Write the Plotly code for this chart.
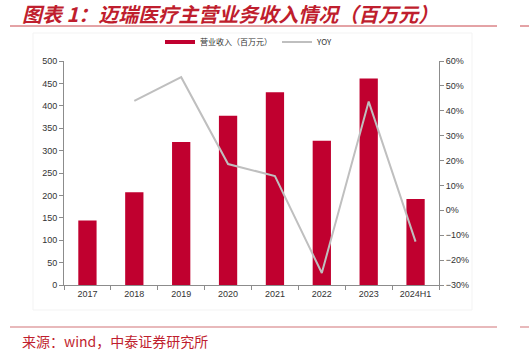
import plotly.graph_objects as go

categories = ["2017", "2018", "2019", "2020", "2021", "2022", "2023", "2024H1"]
revenue = [144, 207, 319, 378, 430, 322, 461, 192]
yoy = [None, 0.44, 0.535, 0.186, 0.138, -0.252, 0.437, -0.126]
title_text = "图表 1：迈瑞医疗主营业务收入情况（百万元）"
source_text = "来源：wind，中泰证券研究所"
left_ticks = list(range(0, 501, 50))
right_ticks = [i / 10 for i in range(-3, 7)]

W, H = 529, 351
L, R, T, B = 64, 90, 61, 66
PW, PH = W - L - R, H - T - B


def px(x):
    return (x - L) / PW


def py(y):
    return (H - B - y) / PH


BAR_COLOR = "#C0002F"
LINE_COLOR = "#BFBFBF"
RED = "#BF1E2E"

fig = go.Figure()
fig.add_trace(go.Bar(
    x=categories, y=revenue, name="营业收入（百万元）",
    marker=dict(color=BAR_COLOR, line=dict(width=0)), width=0.39,
    showlegend=False, yaxis="y",
))
fig.add_trace(go.Scatter(
    x=[None], y=[None], mode="lines", name="营业收入（百万元）",
    line=dict(color=BAR_COLOR, width=4), yaxis="y", hoverinfo="skip",
))
fig.add_trace(go.Scatter(
    x=categories, y=yoy, mode="lines", name="YOY",
    line=dict(color=LINE_COLOR, width=2), yaxis="y2", connectgaps=False,
))

axis_font = dict(family="Liberation Sans, Arial, sans-serif", size=9, color="#333333")

fig.update_layout(
    width=W, height=H,
    margin=dict(l=L, r=R, t=T, b=B),
    paper_bgcolor="white", plot_bgcolor="white",
    xaxis=dict(
        type="category", showgrid=False, showline=True, linecolor="#8C8C8C", linewidth=1,
        ticks="outside", tickson="boundaries", ticklen=4, tickcolor="#8C8C8C",
        tickfont=axis_font, range=[-0.5, 7.5],
    ),
    yaxis=dict(
        range=[0, 500], tickvals=left_ticks, showgrid=False, zeroline=False,
        showline=True, linecolor="#8C8C8C", linewidth=1,
        ticks="outside", ticklen=4, tickcolor="#8C8C8C", tickfont=axis_font,
    ),
    yaxis2=dict(
        range=[-0.3, 0.6], tickvals=right_ticks, tickformat=".0%", overlaying="y", side="right",
        showgrid=False, zeroline=False, showline=True, linecolor="#8C8C8C", linewidth=1,
        ticks="outside", ticklen=4, tickcolor="#8C8C8C", tickfont=axis_font,
    ),
    legend=dict(
        orientation="h", x=px(160), y=py(42), xanchor="left", yanchor="middle",
        font=dict(family="Noto Sans CJK SC", size=8, color="#333333"),
        bgcolor="rgba(0,0,0,0)", itemwidth=30, traceorder="normal",
    ),
    showlegend=True,
    shapes=[
        dict(type="rect", xref="paper", yref="paper", x0=px(33), x1=px(472), y0=py(33), y1=py(310),
             line=dict(color="#F3F3F3", width=1), layer="below"),
        dict(type="line", xref="paper", yref="paper", x0=px(10), x1=px(497), y0=py(26), y1=py(26),
             line=dict(color="#C9474D", width=1)),
        dict(type="line", xref="paper", yref="paper", x0=px(520), x1=px(529), y0=py(26), y1=py(26),
             line=dict(color="#C9474D", width=1)),
        dict(type="line", xref="paper", yref="paper", x0=px(10), x1=px(497), y0=py(327), y1=py(327),
             line=dict(color="#E8B9BB", width=2)),
        dict(type="line", xref="paper", yref="paper", x0=px(520), x1=px(529), y0=py(327), y1=py(327),
             line=dict(color="#E8B9BB", width=2)),
    ],
    annotations=[
        dict(text=title_text, xref="paper", yref="paper", x=px(20), y=py(14), xanchor="left",
             yanchor="middle", showarrow=False,
             font=dict(family="Noto Sans CJK SC", size=20, color=RED, style="italic", weight="bold")),
        dict(text=source_text, xref="paper", yref="paper", x=px(20), y=py(341), xanchor="left",
             yanchor="middle", showarrow=False,
             font=dict(family="Noto Sans CJK SC", size=14, color=RED)),
    ],
)

fig.write_html("out.html")
